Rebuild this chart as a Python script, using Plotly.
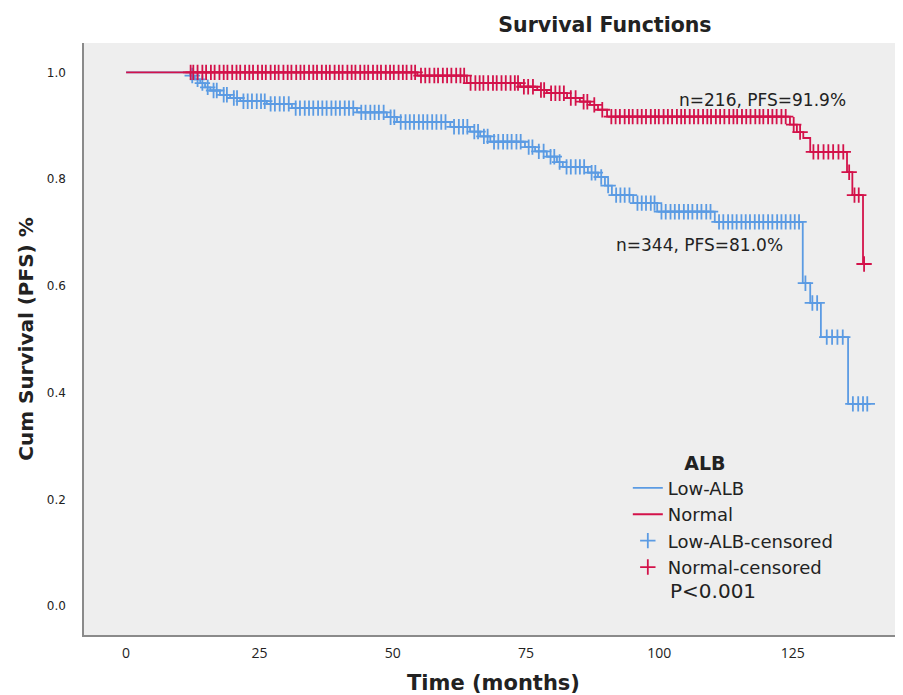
import numpy as np
import plotly.graph_objects as go

# ---------------- data ----------------
# Low-ALB group: event (step) times and survival after each step
low_times = [0, 12.0, 12.9, 13.9, 14.8, 15.8, 17.6, 19.5, 21.4, 26.4, 31.1, 43.3, 48.9,
             50.8, 60.8, 64.5, 66.4, 68.3, 74.8, 76.7, 78.9, 80.8, 81.9, 86.6, 88.5,
             89.8, 91.1, 95.1, 99.6, 110.4, 126.9, 128.3, 130.3, 135.4]
low_surv = [1.0, 0.994, 0.987, 0.980, 0.972, 0.966, 0.958, 0.952, 0.946, 0.941, 0.933,
            0.925, 0.916, 0.907, 0.898, 0.889, 0.880, 0.870, 0.860, 0.852, 0.842, 0.832,
            0.823, 0.812, 0.804, 0.788, 0.770, 0.755, 0.739, 0.720, 0.605, 0.568, 0.504,
            0.379]
low_end = 139.1
low_censored = [12.4, 13.4, 14.3, 15.3, 16.4, 17.0, 18.3, 18.9, 20.2, 20.8,
                22.0, 22.8, 23.6, 24.5, 25.3, 26.0,
                27.1, 27.9, 28.8, 29.6, 30.5,
                31.8, 32.6, 33.5, 34.3, 35.1, 36.0, 36.8, 37.6, 38.5, 39.3, 40.1, 41.0, 41.8, 42.6,
                44.1, 44.9, 45.8, 46.6, 47.4, 48.3,
                49.6, 50.3,
                51.5, 52.4, 53.2, 54.0, 54.9, 55.7, 56.5, 57.4, 58.2, 59.1, 59.9,
                61.5, 62.4, 63.2, 64.0,
                65.3, 66.0,
                67.1, 67.8,
                69.0, 69.8, 70.7, 71.5, 72.3, 73.2, 74.0,
                75.5, 76.2,
                77.4, 78.3,
                79.6, 80.3,
                81.3,
                82.6, 83.4, 84.3, 85.1, 85.9,
                87.3, 88.0,
                89.1,
                90.4,
                91.9, 92.7, 93.5, 94.4,
                95.9, 96.7, 97.5, 98.4, 99.1,
                100.4, 101.2, 102.1, 102.9, 103.7, 104.6, 105.4, 106.2, 107.1, 107.9, 108.8, 109.6,
                111.2, 112.0, 112.9, 113.7, 114.5, 115.4, 116.2, 117.0, 117.9, 118.7, 119.5,
                120.4, 121.2, 122.1, 122.9, 123.7, 124.6, 125.4, 126.2,
                127.4,
                128.7, 129.6,
                131.4, 132.4, 133.4, 134.4,
                136.3, 137.3, 138.2, 139.0]

# Normal group
norm_times = [0, 54.6, 63.9, 73.9, 77.1, 78.9, 82.7, 85.1, 87.0, 88.5, 90.2,
              124.5, 125.8, 127.0, 128.3, 135.2, 136.2, 138.2]
norm_surv = [1.0, 0.994, 0.980, 0.973, 0.967, 0.961, 0.952, 0.945, 0.939, 0.930, 0.917,
             0.902, 0.888, 0.877, 0.851, 0.813, 0.770, 0.641]
norm_end = 138.4
norm_censored = [12.1, 12.6, 13.4, 14.3, 15.0, 15.9, 16.6, 17.5, 18.3, 19.0, 19.9, 20.7,
                 21.4, 22.3, 23.1, 23.8, 24.7, 25.5, 26.2, 27.1, 27.9, 28.6, 29.5, 30.3,
                 31.0, 31.9, 32.7, 33.4, 34.3, 35.1, 35.8, 36.7, 37.5, 38.2, 39.1, 39.9,
                 40.6, 41.5, 42.3, 43.0, 43.9, 44.7, 45.4, 46.3, 47.1, 47.8, 48.7, 49.5,
                 50.2, 51.1, 51.9, 52.6, 53.5, 54.2,
                 55.3, 56.1, 56.9, 57.8, 58.5, 59.4, 60.2, 61.0, 61.9, 62.7, 63.4,
                 64.6, 65.5, 66.3, 67.0, 67.9, 68.8, 69.5, 70.4, 71.2, 72.1, 72.9, 73.5,
                 74.6, 75.4, 76.3,
                 77.8, 78.4,
                 79.7, 80.5, 81.3, 82.1,
                 83.4, 84.3,
                 85.8, 86.5,
                 87.8,
                 89.3,
                 91.0, 91.8, 92.6, 93.5, 94.3, 95.0, 95.9, 96.7, 97.5, 98.4, 99.2, 99.9,
                 100.8, 101.6, 102.4, 103.3, 104.1, 104.8, 105.7, 106.5, 107.3, 108.2,
                 109.0, 109.7, 110.6, 111.4, 112.2, 113.1, 113.9, 114.6, 115.5, 116.3,
                 117.1, 118.0, 118.8, 119.5, 120.4, 121.2, 122.0, 122.9, 123.7,
                 125.2,
                 126.4,
                 128.9, 129.8, 130.8, 131.7, 132.6, 133.6, 134.5,
                 135.6,
                 136.6, 137.4,
                 138.4]

x_ticks = [0, 25, 50, 75, 100, 125]
y_ticks = [0.0, 0.2, 0.4, 0.6, 0.8, 1.0]

group_labels = ["Low-ALB", "Normal"]
annot_text = ["n=344, PFS=81.0%", "n=216, PFS=91.9%"]
annot_pos = [(107.6, 0.677), (119.4, 0.948)]
p_value_text = "P<0.001"

BLUE = "#5b9be3"
RED = "#d3124a"
FONT = "DejaVu Sans"
TXT = "#222222"


def surv_at(times, surv, t):
    idx = np.searchsorted(np.asarray(times), np.asarray(t), side="right") - 1
    return np.asarray(surv)[idx]


fig = go.Figure()

# step lines
for times, surv, end, col, name in [
    (low_times, low_surv, low_end, BLUE, group_labels[0]),
    (norm_times, norm_surv, norm_end, RED, group_labels[1]),
]:
    fig.add_trace(go.Scatter(
        x=list(times) + [end], y=list(surv) + [surv[-1]],
        mode="lines", line=dict(color=col, width=1.8, shape="hv"),
        name=name,
    ))

# censored marks
for times, surv, cens, col, name in [
    (low_times, low_surv, low_censored, BLUE, group_labels[0] + "-censored"),
    (norm_times, norm_surv, norm_censored, RED, group_labels[1] + "-censored"),
]:
    fig.add_trace(go.Scatter(
        x=cens, y=surv_at(times, surv, cens),
        mode="markers",
        marker=dict(symbol="cross-thin", size=11, color=col,
                    line=dict(color=col, width=1.8)),
        name=name,
    ))

for txt, (ax, ay) in zip(annot_text, annot_pos):
    fig.add_annotation(x=ax, y=ay, text=txt, showarrow=False,
                       font=dict(family=FONT, size=17, color=TXT),
                       xanchor="center", yanchor="middle")

fig.add_annotation(xref="paper", yref="paper", x=0.713, y=0.074, text=p_value_text,
                   showarrow=False, xanchor="left", yanchor="middle",
                   font=dict(family=FONT, size=20, color=TXT))

# the page adds an 8px body margin, so the figure is 8px smaller than the window
fig.update_layout(
    width=895, height=687,
    margin=dict(l=76, r=0, t=35, b=60),
    paper_bgcolor="white", plot_bgcolor="#eeeeee",
    title=dict(text="<b>Survival Functions</b>", xref="container", yref="container",
               x=0.667, y=0.975, xanchor="center", yanchor="middle",
               font=dict(family=FONT, size=20.5, color=TXT)),
    showlegend=True,
    legend=dict(
        x=0.664, y=0.321, xanchor="left", yanchor="top",
        bgcolor="rgba(0,0,0,0)",
        font=dict(family=FONT, size=18, color=TXT),
        title=dict(text="&nbsp;" * 9 + "<b>ALB</b>", side="top",
                   font=dict(family=FONT, size=19, color=TXT)),
        tracegroupgap=0, itemwidth=30,
    ),
    font=dict(family=FONT, color=TXT),
)

fig.update_xaxes(
    range=[-7.9, 145.7], tickvals=x_ticks, ticktext=[str(v) for v in x_ticks],
    showgrid=False, zeroline=False, showline=True, linecolor="#8a8a8a", linewidth=1.5,
    ticks="outside", ticklen=4, tickcolor="rgba(0,0,0,0)",
    tickfont=dict(family="Liberation Sans Narrow, Open Sans", size=14, color=TXT),
    title=dict(text="<b>Time (months)</b>", standoff=17,
               font=dict(family=FONT, size=21, color=TXT)),
)
fig.update_yaxes(
    range=[-0.054, 1.055], tickvals=y_ticks, ticktext=[f"{v:.1f}" for v in y_ticks],
    showgrid=False, zeroline=False, showline=True, linecolor="#8a8a8a", linewidth=1.5,
    ticks="outside", ticklen=14, tickcolor="rgba(0,0,0,0)",
    tickfont=dict(family=FONT, size=12, color=TXT),
    title=dict(text="<b>Cum Survival (PFS) %</b>", standoff=8,
               font=dict(family=FONT, size=20, color=TXT)),
)

fig.write_html("out.html")
